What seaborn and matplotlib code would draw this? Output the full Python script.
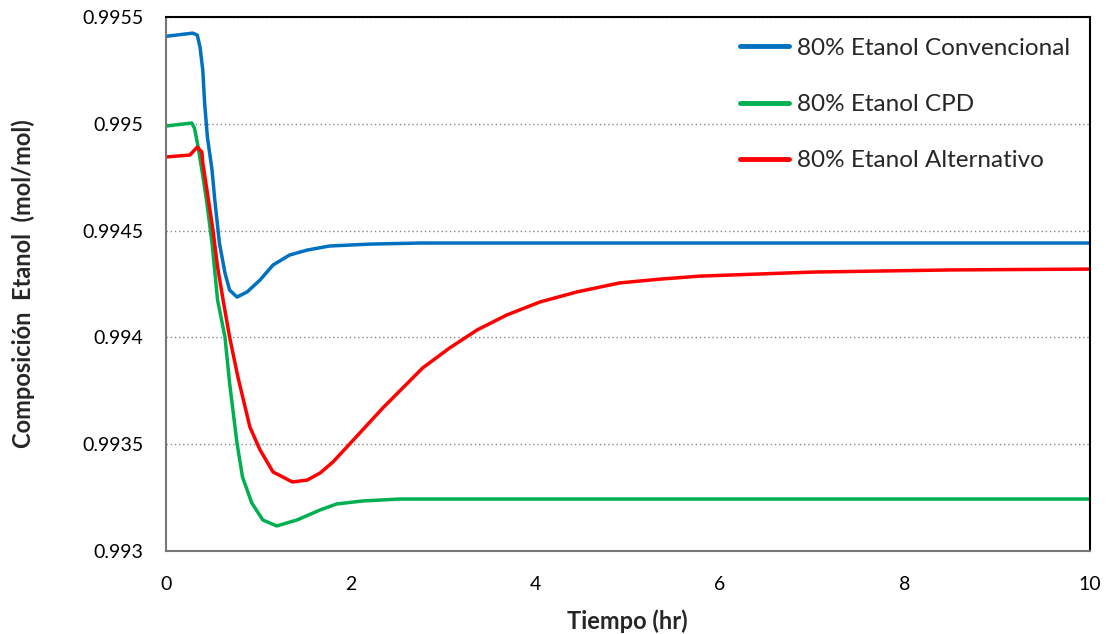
import numpy as np
import pandas as pd
import matplotlib
matplotlib.use("Agg")
import matplotlib.pyplot as plt
import seaborn as sns

# ---- data ----
t_conv = [0.0, 0.29, 0.34, 0.37, 0.40, 0.42, 0.45, 0.50, 0.53, 0.58, 0.64, 0.69, 0.77, 0.88, 1.02, 1.16, 1.34, 1.53, 1.77, 2.21, 2.75, 4.0, 6.0, 8.0, 10.0]
y_conv = [0.995410, 0.995425, 0.995416, 0.995360, 0.995252, 0.995097, 0.994938, 0.994784, 0.994643, 0.994442, 0.994302, 0.994222, 0.994189, 0.994213, 0.994269, 0.994339, 0.994386, 0.994409, 0.994428, 0.994437, 0.994442, 0.994442, 0.994442, 0.994442, 0.994442]

t_cpd = [0.0, 0.28, 0.31, 0.35, 0.39, 0.44, 0.50, 0.56, 0.64, 0.69, 0.77, 0.83, 0.93, 1.05, 1.20, 1.42, 1.67, 1.85, 2.13, 2.53, 4.0, 6.0, 8.0, 10.0]
y_cpd = [0.994990, 0.995004, 0.994980, 0.994891, 0.994784, 0.994643, 0.994442, 0.994175, 0.994002, 0.993787, 0.993506, 0.993346, 0.993225, 0.993145, 0.993117, 0.993145, 0.993192, 0.993220, 0.993234, 0.993243, 0.993243, 0.993243, 0.993243, 0.993243]

t_alt = [0.0, 0.26, 0.34, 0.39, 0.40, 0.45, 0.51, 0.56, 0.62, 0.69, 0.78, 0.91, 1.02, 1.16, 1.37, 1.53, 1.67, 1.81, 1.99, 2.35, 2.78, 3.07, 3.37, 3.69, 4.05, 4.45, 4.91, 5.35, 5.78, 7.0, 8.5, 10.0]
y_alt = [0.994845, 0.994854, 0.994891, 0.994868, 0.994817, 0.994676, 0.994503, 0.994330, 0.994175, 0.994002, 0.993815, 0.993580, 0.993473, 0.993370, 0.993323, 0.993332, 0.993365, 0.993417, 0.993501, 0.993670, 0.993857, 0.993950, 0.994035, 0.994105, 0.994166, 0.994213, 0.994255, 0.994273, 0.994287, 0.994306, 0.994316, 0.994320]

labels = ["80% Etanol Convencional", "80% Etanol CPD", "80% Etanol Alternativo"]
colors = ["#0070C0", "#00B050", "#FF0000"]
x_ticks = [0, 2, 4, 6, 8, 10]
y_ticks = [0.993, 0.9935, 0.994, 0.9945, 0.995, 0.9955]
y_ticklabels = ["0.993", "0.9935", "0.994", "0.9945", "0.995", "0.9955"]

df = pd.concat([
    pd.DataFrame({"t": t_conv, "y": y_conv, "serie": labels[0]}),
    pd.DataFrame({"t": t_cpd, "y": y_cpd, "serie": labels[1]}),
    pd.DataFrame({"t": t_alt, "y": y_alt, "serie": labels[2]}),
], ignore_index=True)

sns.set_theme(style="white")
plt.rcParams["font.family"] = ["Lato", "DejaVu Sans"]

fig = plt.figure(figsize=(11.13, 6.34), dpi=100)
ax = fig.add_axes([0.149, 0.131, 0.830, 0.842])

sns.lineplot(data=df, x="t", y="y", hue="serie", hue_order=labels,
             palette=colors, linewidth=2.5, ax=ax, sort=False, estimator=None)
for ln in ax.get_lines():
    ln.set_solid_joinstyle("round")
    ln.set_solid_capstyle("round")

ax.set_xlim(0, 10)
ax.set_ylim(0.993, 0.9955)
ax.set_xticks(x_ticks)
ax.set_xticklabels([str(v) for v in x_ticks])
ax.set_yticks(y_ticks)
ax.set_yticklabels(y_ticklabels)
ax.tick_params(axis="both", length=0, labelsize=14, colors="black")
ax.tick_params(axis="x", pad=18)
ax.tick_params(axis="y", pad=16)

ax.yaxis.grid(True, linestyle=(0, (1, 2)), color="#888888", linewidth=1.0)
ax.xaxis.grid(False)

for s in ["top", "right"]:
    ax.spines[s].set_color("black")
    ax.spines[s].set_linewidth(1.5)
for s in ["left", "bottom"]:
    ax.spines[s].set_color("#777777")
    ax.spines[s].set_linewidth(1.5)

ax.set_xlabel("Tiempo (hr)", fontsize=17, fontweight="bold", labelpad=12)
ax.set_ylabel("Composición  Etanol  (mol/mol)", fontsize=17, fontweight="bold", labelpad=34)

leg = ax.legend(loc="upper left", bbox_to_anchor=(0.621, 0.961), frameon=False,
                fontsize=17.5, labelspacing=1.45, handlelength=2.05, handletextpad=0.3,
                borderpad=0, borderaxespad=0)
for line in leg.get_lines():
    line.set_linewidth(3.5)

fig.savefig("out.png", dpi=100, facecolor="white")
